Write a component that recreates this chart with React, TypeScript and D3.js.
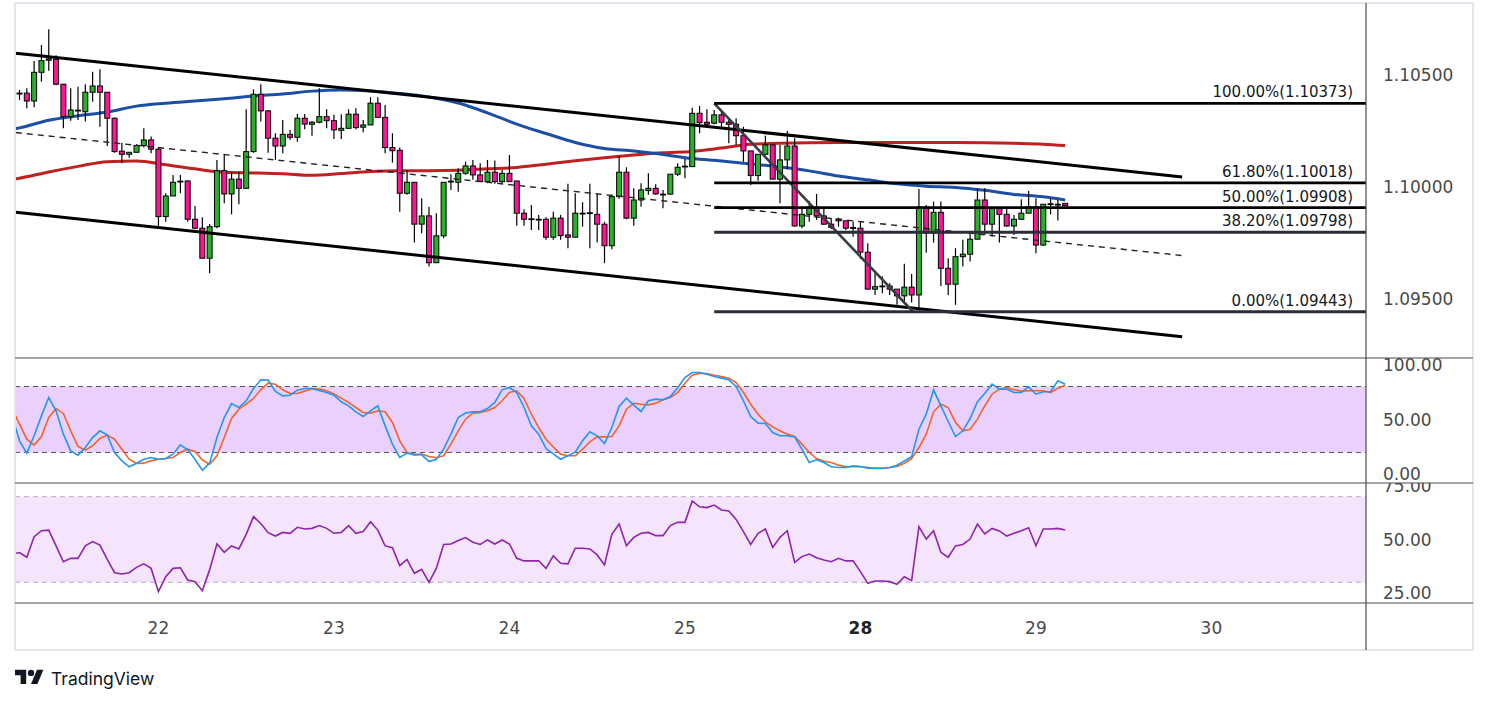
import React from "react";
import * as d3 from "d3";

// ---------- DATA (hourly EUR/USD style candles, bar index 0..143) ----------
const OPEN = [1.10419,1.10419,1.10384,1.10512,1.10566,1.10570,1.10459,1.10314,1.10341,1.10336,1.10423,1.10451,1.10423,1.10307,1.10160,1.10146,1.10155,1.10185,1.10210,1.10169,1.09868,1.09960,1.10024,1.10027,1.09856,1.09816,1.09682,1.09823,1.10073,1.09969,1.10035,1.09994,1.10158,1.10414,1.10340,1.10218,1.10183,1.10235,1.10222,1.10307,1.10280,1.10289,1.10314,1.10296,1.10253,1.10262,1.10325,1.10267,1.10277,1.10374,1.10311,1.10176,1.10164,1.09972,1.10021,1.09834,1.09871,1.09662,1.09782,1.10024,1.10021,1.10061,1.10094,1.10054,1.10024,1.10066,1.10024,1.10061,1.10027,1.09883,1.09856,1.09856,1.09856,1.09776,1.09861,1.09786,1.09776,1.09883,1.09883,1.09878,1.09834,1.09738,1.09957,1.10066,1.09861,1.09942,1.09984,1.09994,1.09968,1.09968,1.10057,1.10091,1.10091,1.10329,1.10289,1.10285,1.10322,1.10289,1.10280,1.10229,1.10161,1.10051,1.10146,1.10188,1.10035,1.10121,1.10183,1.09826,1.09878,1.09910,1.09871,1.09834,1.09857,1.09849,1.09819,1.09816,1.09709,1.09544,1.09558,1.09558,1.09544,1.09514,1.09553,1.09518,1.09910,1.09794,1.09887,1.09637,1.09566,1.09689,1.09700,1.09767,1.09942,1.09834,1.09905,1.09878,1.09826,1.09856,1.09883,1.09912,1.09741,1.09923,1.09923,1.09927];
const HIGH = [1.10433,1.10441,1.10563,1.10634,1.10704,1.10588,1.10459,1.10441,1.10448,1.10459,1.10515,1.10526,1.10423,1.10310,1.10198,1.10155,1.10191,1.10262,1.10225,1.10176,1.09972,1.10054,1.10054,1.10030,1.09915,1.09865,1.09835,1.10121,1.10146,1.10068,1.10068,1.10347,1.10436,1.10459,1.10344,1.10240,1.10299,1.10255,1.10326,1.10326,1.10295,1.10441,1.10347,1.10322,1.10325,1.10347,1.10352,1.10299,1.10401,1.10401,1.10366,1.10240,1.10176,1.10076,1.10021,1.09950,1.09912,1.09883,1.10021,1.10057,1.10084,1.10113,1.10121,1.10106,1.10121,1.10118,1.10076,1.10143,1.10027,1.09901,1.09920,1.09875,1.09865,1.09890,1.09875,1.10014,1.09972,1.09932,1.10014,1.09972,1.09845,1.09965,1.10139,1.10088,1.09994,1.10017,1.10061,1.10012,1.09987,1.10057,1.10106,1.10125,1.10354,1.10362,1.10347,1.10344,1.10344,1.10307,1.10307,1.10269,1.10161,1.10146,1.10229,1.10188,1.10188,1.10250,1.10218,1.09912,1.09938,1.09969,1.09905,1.09861,1.09863,1.09849,1.09845,1.09845,1.09749,1.09622,1.09600,1.09570,1.09544,1.09657,1.09612,1.09991,1.09920,1.09935,1.09935,1.09682,1.09727,1.09764,1.09790,1.09994,1.09994,1.09912,1.09912,1.09905,1.09875,1.09945,1.09982,1.09950,1.09923,1.09950,1.09942,1.09927];
const LOW = [1.10389,1.10352,1.10356,1.10470,1.10519,1.10454,1.10262,1.10296,1.10299,1.10292,1.10381,1.10269,1.10183,1.10153,1.10106,1.10131,1.10155,1.10176,1.10151,1.09823,1.09845,1.09960,1.09972,1.09845,1.09811,1.09682,1.09615,1.09816,1.09927,1.09878,1.09923,1.09994,1.10153,1.10292,1.10153,1.10121,1.10151,1.10210,1.10202,1.10258,1.10229,1.10285,1.10262,1.10214,1.10214,1.10262,1.10258,1.10244,1.10277,1.10311,1.10151,1.10109,1.09890,1.09965,1.09752,1.09794,1.09645,1.09662,1.09771,1.09987,1.09979,1.10054,1.10032,1.10024,1.10017,1.10014,1.10017,1.10024,1.09827,1.09827,1.09808,1.09808,1.09764,1.09764,1.09764,1.09727,1.09776,1.09823,1.09727,1.09752,1.09660,1.09722,1.09947,1.09856,1.09827,1.09912,1.09965,1.09965,1.09905,1.09968,1.10049,1.10039,1.10091,1.10240,1.10273,1.10280,1.10269,1.10195,1.10188,1.10113,1.10009,1.10028,1.10146,1.10035,1.09927,1.10079,1.09823,1.09816,1.09845,1.09853,1.09831,1.09811,1.09823,1.09808,1.09778,1.09679,1.09544,1.09518,1.09526,1.09518,1.09474,1.09484,1.09484,1.09454,1.09707,1.09752,1.09558,1.09518,1.09474,1.09645,1.09667,1.09767,1.09786,1.09778,1.09752,1.09823,1.09786,1.09853,1.09883,1.09704,1.09737,1.09878,1.09850,1.09917];
const CLOSE = [1.10419,1.10384,1.10512,1.10564,1.10572,1.10459,1.10314,1.10344,1.10343,1.10423,1.10451,1.10423,1.10307,1.10158,1.10146,1.10155,1.10185,1.10210,1.10169,1.09868,1.09960,1.10021,1.10026,1.09856,1.09816,1.09682,1.09823,1.10073,1.09969,1.10035,1.09994,1.10158,1.10414,1.10340,1.10218,1.10183,1.10235,1.10222,1.10307,1.10281,1.10289,1.10314,1.10296,1.10255,1.10262,1.10325,1.10265,1.10277,1.10374,1.10311,1.10176,1.10162,1.09972,1.10021,1.09834,1.09871,1.09662,1.09782,1.10021,1.10026,1.10061,1.10094,1.10054,1.10024,1.10066,1.10024,1.10061,1.10024,1.09883,1.09856,1.09858,1.09856,1.09776,1.09861,1.09783,1.09776,1.09883,1.09883,1.09885,1.09834,1.09738,1.09957,1.10066,1.09861,1.09942,1.09987,1.09994,1.09969,1.09966,1.10057,1.10088,1.10093,1.10329,1.10287,1.10280,1.10322,1.10289,1.10280,1.10229,1.10161,1.10051,1.10146,1.10188,1.10035,1.10121,1.10183,1.09826,1.09878,1.09910,1.09871,1.09834,1.09820,1.09849,1.09816,1.09817,1.09709,1.09544,1.09555,1.09558,1.09544,1.09514,1.09553,1.09518,1.09910,1.09794,1.09887,1.09637,1.09566,1.09689,1.09700,1.09767,1.09942,1.09834,1.09905,1.09878,1.09826,1.09856,1.09883,1.09912,1.09741,1.09923,1.09925,1.09921,1.09917];

// Moving averages sampled at bar indices
const MA_BARS = [-1,0,4,8,12,16,20,24,28,32,36,40,44,48,52,56,60,64,68,72,76,80,84,88,92,96,100,104,108,112,116,120,124,128,132,136,140,143];
const MA_BLUE = [1.10258,1.10264,1.10298,1.10318,1.10335,1.10361,1.10374,1.10384,1.10394,1.10406,1.10415,1.10428,1.10433,1.10429,1.10418,1.10402,1.10375,1.10331,1.10281,1.10239,1.10199,1.10172,1.10161,1.10145,1.10127,1.10116,1.10103,1.10089,1.10072,1.10049,1.10032,1.10014,1.10003,1.09998,1.09985,1.09967,1.09956,1.09942];
const MA_RED = [1.10033,1.10039,1.10067,1.10092,1.10113,1.10116,1.10099,1.10081,1.10066,1.10063,1.10059,1.10052,1.10060,1.10069,1.10073,1.10073,1.10075,1.10081,1.10087,1.10102,1.10117,1.10131,1.10143,1.10153,1.10159,1.10174,1.10191,1.10195,1.10198,1.10199,1.10199,1.10199,1.10199,1.10199,1.10198,1.10195,1.10191,1.10185];

// Indicators, bar -1 .. 143
const STOCH_K = [53.3,30.6,19.4,35.2,53.3,70,57.9,36.7,21.5,17.6,24.5,33.6,39.7,35.8,20,12.4,7,10.3,13.9,15.5,13.9,14.5,18.5,27,22.4,13.9,3.9,10.3,33.6,51.8,64.5,60.9,67,78.2,86.1,85.8,75.5,71.5,72.1,76.7,78.2,78.2,76.4,74.5,72.1,66.1,62.4,57,52.7,57.9,62.4,44.2,27.6,15.5,19.4,18.5,17.9,11.8,13.9,23,36.7,51.8,55.8,57,57,60,65.5,77,79.1,74.5,60.9,44.2,36.7,23.6,18.8,13.9,17,20.3,30.6,38.8,35.2,28.2,42.7,61.8,69.4,63,57.3,67,68.5,67.9,70.9,78.8,88.2,92.7,92.7,91.2,89.1,87.6,86.1,80,67,52.7,46.7,46.4,38.2,35.2,35.2,34.2,23,10.9,13.3,10.9,7,6.4,6.4,7.9,7.3,5.8,5.5,5.5,6.4,8.5,12.4,16.1,41.2,54.8,77,62.4,48.2,34.5,39.7,50.9,66.1,73.6,82.1,77.6,77.6,74.5,74.5,79.7,73,75.2,75.2,85.2,82.1];
const STOCH_D = [59.4,45.8,32.1,26.7,34.5,51.8,60,55.5,39.7,25.5,22.1,26.1,32.7,35.8,32.1,23,13.9,10,10.3,12.4,13.9,14.5,15.5,20,23,20.9,13.3,9.4,17,33.6,50.9,59.4,63.9,69.1,77,83,82.1,77,73.6,73.6,75.8,77.9,77.6,76.1,73.3,69.4,65.5,60.9,56.4,55.8,57.9,57,47.3,30.6,20,17.6,18.5,16.4,15.2,17,27.6,39.7,50.3,55.8,56.4,57.9,60.9,67,74.5,76.1,69.1,54.8,42.7,32.1,25,18.5,17,17,23,29.7,34.2,34.2,34.5,44.2,59.4,64.8,63.9,63.3,64.8,67.9,70,74.5,83,90.3,92.1,91.8,90.3,89.1,87.6,83.6,74.5,63.9,54.8,47.9,43.3,39.7,36.7,34.5,27.6,20,14.5,12,10.9,8.5,7,7,7,6.4,5.8,5.8,6.4,7.3,10.3,14.5,24.5,36.7,57,63.9,60.9,47.3,39.7,41.2,50.3,62.4,73,77.6,79.1,77,75.8,76.1,76.1,76.1,74.5,78.5,81.2];
const RSI = [43.2,43.9,41.7,51.3,54.1,54.4,47,39.6,41.2,41.2,47,49,47.4,40.7,34.5,33.9,34.5,37,38.6,36.5,25.6,32.6,36.5,36.8,31.1,30.3,26.1,35.8,47.9,44,47,45.6,52.4,60.7,57.5,53.2,51.6,53.3,52.9,55.7,54.9,55.2,56.5,55.2,52.9,53.3,56.5,52.9,53.7,58.3,54.4,47,46.2,37.8,40.7,34.2,36.1,30,36.5,47.7,47.9,49.5,50.9,48.7,47.7,49.8,47.9,49.8,47.9,41.2,40,40,40.1,36.5,42.4,38.9,38.6,45.9,45.9,45.6,42.8,38.1,52.4,57.2,47.1,51,52.9,53.3,51.8,51.8,56.5,58,58,68,65.3,64.9,66.1,63.8,63.3,59.4,53.7,47.7,52.9,54.9,46.3,51,54.1,39.3,42,43.2,41.5,40.4,39.6,41.2,40,40,35,29.5,30.6,30.6,30.3,29.1,32.6,30.8,56,50.2,54.1,44,41.7,47,47.7,50.2,57.2,52.6,55.2,54,51.6,52.9,54.1,55.5,47.1,54.9,54.9,55.2,54.4];

// Drawings
const CHANNEL_BARS = [-0.5, 159];
const CHANNEL_UPPER = [1.10597, 1.10045];
const CHANNEL_LOWER = [1.09887, 1.09331];
const CHANNEL_MID = [1.10243, 1.09694];
const FIB_LABELS = ["100.00", "61.80", "50.00", "38.20", "0.00"];
const FIB_PRICES = [1.10373, 1.10018, 1.09908, 1.09798, 1.09443];
const FIB_COLORS = ["#000000", "#000000", "#000000", "#2a2e39", "#2a2e39"];
const FIB_TREND_BARS = [95, 122.2];
const FIB_TREND_PRICES = [1.10373, 1.09443];

// Axes
const PRICE_TICKS = [1.105, 1.1, 1.095];
const STOCH_TICKS = [100, 50, 0];
const STOCH_LEVELS = [80, 20];
const RSI_TICKS = [75, 50, 25];
const RSI_LEVELS = [70, 30];
const DAY_LABELS = ["22", "23", "24", "25", "28", "29", "30"];
const DAY_BARS = [19, 43, 67, 91, 115, 139, 163];
const DAY_BOLD = [false, false, false, false, true, false, false];

// ---------- LAYOUT ----------
const W = 1489, H = 704;
const L = 15, AX = 1366, R = 1473;
const TOP = 3, S1 = 358, S2 = 483, S3 = 603, BOT = 650;
const FONT = "'DejaVu Sans', Verdana, sans-serif";

const x = d3.scaleLinear().domain([0, 143]).range([19.5, 19.5 + 143 * 7.3125]);
const yP = d3.scaleLinear().domain([1.095, 1.105]).range([299, 75]);
const yS = d3.scaleLinear().domain([0, 100]).range([474.5, 364.5]);
const yR = d3.scaleLinear().domain([25, 75]).range([593, 486]);

export default function App() {
  const maLine = d3
    .line<number>()
    .x((_, i) => x(MA_BARS[i]))
    .y((v) => yP(v))
    .curve(d3.curveMonotoneX);
  const indLine = (scale: d3.ScaleLinear<number, number>) =>
    d3
      .line<number>()
      .x((_, i) => x(i - 1))
      .y((v) => scale(v));
  const seg = (bars: number[], prices: number[]) =>
    d3.line<number>().x((_, i) => x(bars[i])).y((v) => yP(v))(prices) || "";

  const up = "#2bb02b";
  const down = "#fb1590";
  const bw = 5;

  return (
    <svg
      width={W}
      height={H}
      style={{ position: "absolute", left: 0, top: 0, background: "#fff" }}
      fontFamily={FONT}
    >
      <defs>
        <clipPath id="cMain"><rect x={L} y={TOP} width={AX - L} height={S1 - TOP} /></clipPath>
        <clipPath id="cStoch"><rect x={L} y={S1} width={AX - L} height={S2 - S1} /></clipPath>
        <clipPath id="cRsi"><rect x={L} y={S2} width={AX - L} height={S3 - S2} /></clipPath>
        <clipPath id="aStoch"><rect x={AX} y={S1} width={R - AX} height={S2 - S1} /></clipPath>
        <clipPath id="aRsi"><rect x={AX} y={S2} width={R - AX} height={S3 - S2} /></clipPath>
      </defs>
      <rect x={0} y={0} width={W} height={H} fill="#fff" />

      {/* ---------- main pane ---------- */}
      <g clipPath="url(#cMain)">
        <path d={maLine(MA_RED) || ""} fill="none" stroke="#c0201f" strokeWidth={3} />
        <path d={maLine(MA_BLUE) || ""} fill="none" stroke="#1b4fa6" strokeWidth={3} />
        {OPEN.map((o, i) => {
          const c = CLOSE[i];
          const isUp = c >= o;
          const top = yP(Math.max(o, c));
          const bot = yP(Math.min(o, c));
          const cx = x(i);
          return (
            <g key={i}>
              <line x1={cx} x2={cx} y1={yP(HIGH[i])} y2={yP(LOW[i])} stroke="#000" strokeWidth={1.2} />
              <rect
                x={cx - bw / 2}
                y={top}
                width={bw}
                height={Math.max(bot - top, 0.8)}
                fill={isUp ? up : down}
                stroke="#000"
                strokeWidth={1}
              />
            </g>
          );
        })}
        {/* channel */}
        <path d={seg(CHANNEL_BARS, CHANNEL_UPPER)} stroke="#000" strokeWidth={3} fill="none" />
        <path d={seg(CHANNEL_BARS, CHANNEL_LOWER)} stroke="#000" strokeWidth={3} fill="none" />
        <path d={seg(CHANNEL_BARS, CHANNEL_MID)} stroke="#222" strokeWidth={1.4} strokeDasharray="6 5" fill="none" />
        {/* fib */}
        <path d={seg(FIB_TREND_BARS, FIB_TREND_PRICES)} stroke="#3a3d46" strokeWidth={2.6} fill="none" />
        {FIB_PRICES.map((p, i) => (
          <g key={i}>
            <line x1={x(FIB_TREND_BARS[0])} x2={AX} y1={yP(p)} y2={yP(p)} stroke={FIB_COLORS[i]} strokeWidth={2.8} />
            <text x={1353} y={yP(p) - 6} textAnchor="end" fontSize={15} fill="#131722">
              {`${FIB_LABELS[i]}%(${p.toFixed(5)})`}
            </text>
          </g>
        ))}
      </g>

      {/* ---------- stochastic pane ---------- */}
      <g clipPath="url(#cStoch)">
        <rect x={L} y={yS(STOCH_LEVELS[0])} width={AX - L} height={yS(STOCH_LEVELS[1]) - yS(STOCH_LEVELS[0])} fill="#ead0fc" />
        {STOCH_LEVELS.map((v) => (
          <line key={v} x1={L} x2={AX} y1={yS(v)} y2={yS(v)} stroke="#5c5566" strokeWidth={1} strokeDasharray="5 4" />
        ))}
        <path d={indLine(yS)(STOCH_D) || ""} fill="none" stroke="#f4622a" strokeWidth={1.6} />
        <path d={indLine(yS)(STOCH_K) || ""} fill="none" stroke="#2196f3" strokeWidth={1.6} />
      </g>

      {/* ---------- RSI pane ---------- */}
      <g clipPath="url(#cRsi)">
        <rect x={L} y={yR(RSI_LEVELS[0])} width={AX - L} height={yR(RSI_LEVELS[1]) - yR(RSI_LEVELS[0])} fill="#f4e5fd" />
        {RSI_LEVELS.map((v) => (
          <line key={v} x1={L} x2={AX} y1={yR(v)} y2={yR(v)} stroke="#b8adc2" strokeWidth={1} strokeDasharray="5 4" />
        ))}
        <path d={indLine(yR)(RSI) || ""} fill="none" stroke="#8e24aa" strokeWidth={1.6} />
      </g>

      {/* ---------- frame & separators ---------- */}
      <rect x={L} y={TOP} width={R - L} height={BOT - TOP} fill="none" stroke="#e3e6ec" strokeWidth={2} />
      <line x1={AX} x2={AX} y1={TOP} y2={BOT} stroke="#4a4a4a" strokeWidth={1.2} />
      {[S1, S2, S3].map((s) => (
        <line key={s} x1={L} x2={R} y1={s} y2={s} stroke="#4a4a4a" strokeWidth={1.2} />
      ))}

      {/* ---------- axis labels ---------- */}
      {PRICE_TICKS.map((p) => (
        <text key={p} x={1383} y={yP(p)} dominantBaseline="central" fontSize={17} fill="#4a4a4a">
          {p.toFixed(5)}
        </text>
      ))}
      <g clipPath="url(#aStoch)">
        {STOCH_TICKS.map((v) => (
          <text key={v} x={1383} y={yS(v) - (v === 0 ? 1 : 0)} dominantBaseline="central" fontSize={17} fill="#4a4a4a">
            {v.toFixed(2)}
          </text>
        ))}
      </g>
      <g clipPath="url(#aRsi)">
        {RSI_TICKS.map((v) => (
          <text key={v} x={1383} y={yR(v)} dominantBaseline="central" fontSize={17} fill="#4a4a4a">
            {v.toFixed(2)}
          </text>
        ))}
      </g>
      {DAY_LABELS.map((d, i) => (
        <text
          key={d}
          x={x(DAY_BARS[i])}
          y={628}
          textAnchor="middle"
          dominantBaseline="central"
          fontSize={17}
          fontWeight={DAY_BOLD[i] ? "bold" : "normal"}
          fill={DAY_BOLD[i] ? "#222" : "#4a4a4a"}
        >
          {d}
        </text>
      ))}

      {/* ---------- watermark ---------- */}
      <g transform="translate(15,666.5) scale(0.8)" fill="#131722">
        <path d="M14 22H7V11H0V4h14v18z" />
        <path d="M28 22h-8l7.5-18h8L28 22z" />
        <circle cx={20} cy={8} r={4} />
      </g>
      <text x={51} y={678} dominantBaseline="central" fontSize={17.5} fontFamily="Inter, 'Open Sans', sans-serif" fontWeight={400} fill="#131722">
        TradingView
      </text>
    </svg>
  );
}
